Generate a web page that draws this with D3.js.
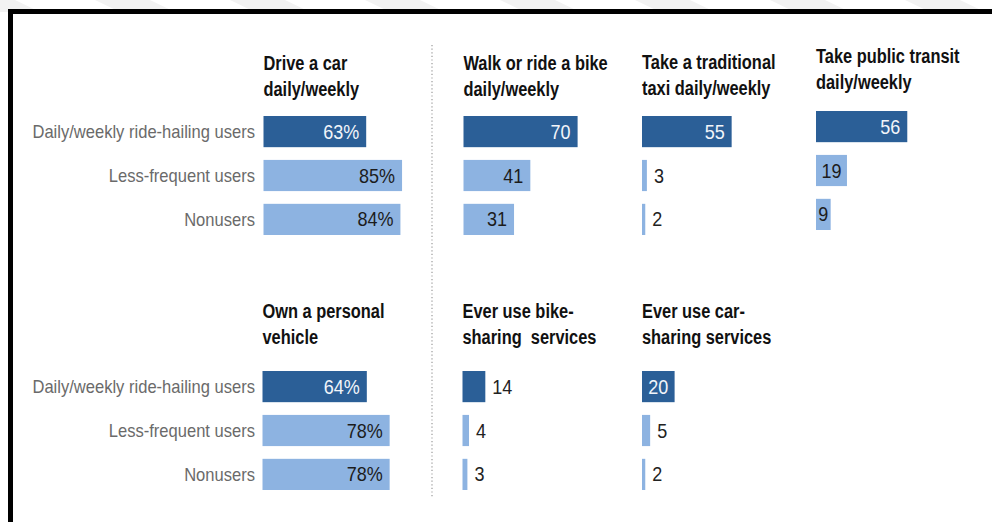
<!DOCTYPE html>
<html>
<head>
<meta charset="utf-8">
<script src="https://cdn.jsdelivr.net/npm/d3@7/dist/d3.min.js"></script>
<style>
  html, body { margin: 0; padding: 0; background: #fff; }
  svg { display: block; }
  text { white-space: pre; }
</style>
</head>
<body>
<svg id="chart" width="992" height="522"></svg>
<script>
// Respondent groups (rows of every small panel)
const groups = ["Daily/weekly ride-hailing users", "Less-frequent users", "Nonusers"];

// Top row of panels: titles and shares (%)
const topTitles = [
  ["Drive a car", "daily/weekly"],
  ["Walk or ride a bike", "daily/weekly"],
  ["Take a traditional", "taxi daily/weekly"],
  ["Take public transit", "daily/weekly"]
];
const driveCar = [63, 85, 84];
const walkBike = [70, 41, 31];
const taxi = [55, 3, 2];
const transit = [56, 19, 9];

// Bottom row of panels
const bottomTitles = [
  ["Own a personal", "vehicle"],
  ["Ever use bike-", "sharing  services"],
  ["Ever use car-", "sharing services"]
];
const ownVehicle = [64, 78, 78];
const bikeSharing = [14, 4, 3];
const carSharing = [20, 5, 2];

const svg = d3.select("#chart");
const W = 992, H = 522;

const DARK = "#2b5f97", LIGHT = "#8db3e1";

// faint diagonal bands above the frame
const bandStarts = d3.range(-40, W + 140, 135);
svg.append("g").selectAll("path").data(bandStarts).join("path")
  .attr("d", d => `M${d},0 L${d + 55},0 L${d + 80},12 L${d + 25},12 Z`)
  .attr("fill", "#f2f2f2");

// framed white area
svg.append("rect")
  .attr("x", 10.5).attr("y", 11.5)
  .attr("width", 1000).attr("height", 600)
  .attr("fill", "#fff").attr("stroke", "#000").attr("stroke-width", 5);

// shared scales
const x = d3.scaleLinear().domain([0, 100]).range([0, 163]);
const y = d3.scaleBand().domain(groups).range([0, 119]).paddingInner(0.29).paddingOuter(0);

// horizontally condensed text helper
function label(g, str, px, py, opts) {
  return g.append("text")
    .attr("transform", `translate(${px},${py}) scale(${opts.sx},1)`)
    .attr("font-family", "'Liberation Sans', Arial, sans-serif")
    .attr("font-size", opts.size)
    .attr("font-weight", opts.weight || "normal")
    .attr("fill", opts.fill)
    .attr("text-anchor", opts.anchor || "start")
    .text(str);
}

// dotted divider between first and second columns
svg.append("line")
  .attr("x1", 432).attr("x2", 432).attr("y1", 45).attr("y2", 497)
  .attr("stroke", "#9a9a9a").attr("stroke-width", 1.2)
  .attr("stroke-dasharray", "1.2,2.4");

function panel(title, values, px, barTop, titleBase, pct) {
  const g = svg.append("g");
  label(g, title[0], px, titleBase, { size: 20.5, sx: 0.8, weight: "bold", fill: "#111" });
  label(g, title[1], px, titleBase + 26, { size: 20.5, sx: 0.8, weight: "bold", fill: "#111" });

  const rows = g.append("g").attr("transform", `translate(${px},${barTop})`);
  groups.forEach((grp, i) => {
    const v = values[i];
    const w = x(v);
    const yy = y(grp);
    const base = yy + y.bandwidth() / 2 + 7;
    rows.append("rect")
      .attr("x", 0).attr("y", yy)
      .attr("width", w).attr("height", y.bandwidth())
      .attr("fill", i === 0 ? DARK : LIGHT);

    const sx = 0.9;
    const txt = label(rows, v + (pct ? "%" : ""), 0, base, { size: 20, sx: sx, fill: "#222" });
    const tw = txt.node().getComputedTextLength() * sx;
    if (w >= tw + 4) {
      // value fits inside the bar, right-aligned
      const pad = Math.min(7, (w - tw) / 2);
      txt.attr("text-anchor", "end")
        .attr("transform", `translate(${w - pad},${base}) scale(${sx},1)`)
        .attr("fill", i === 0 ? "#f2f5fa" : "#1c1c1c");
    } else {
      // short bar: value just past its end
      txt.attr("transform", `translate(${w + 7},${base}) scale(${sx},1)`);
    }
  });
}

function rowLabels(barTop) {
  const g = svg.append("g").attr("transform", `translate(255,${barTop})`);
  groups.forEach(grp => {
    label(g, grp, 0, y(grp) + y.bandwidth() / 2 + 6.5,
      { size: 18, sx: 0.92, fill: "#6a6a6a", anchor: "end" });
  });
}

// top row
rowLabels(116);
panel(topTitles[0], driveCar, 263.5, 116, 69.5, true);
panel(topTitles[1], walkBike, 463.5, 116, 69.5, false);
panel(topTitles[2], taxi, 642, 116, 69, false);
panel(topTitles[3], transit, 816, 111, 63, false);

// bottom row
rowLabels(371);
panel(bottomTitles[0], ownVehicle, 262.5, 371, 318, true);
panel(bottomTitles[1], bikeSharing, 462.5, 371, 318, false);
panel(bottomTitles[2], carSharing, 642, 371, 318, false);
</script>
</body>
</html>
